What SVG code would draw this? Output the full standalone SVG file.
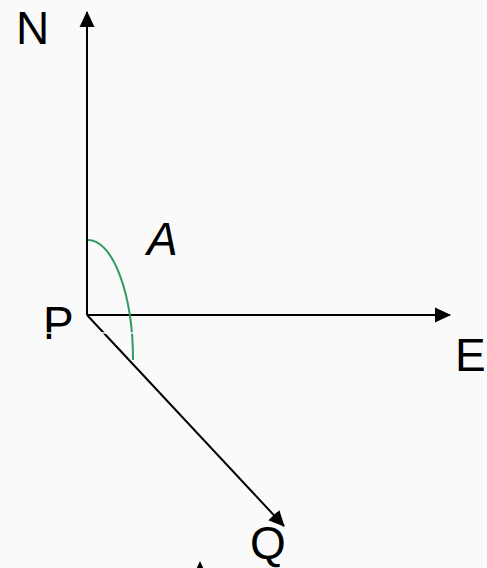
<svg xmlns="http://www.w3.org/2000/svg" width="487" height="568" viewBox="0 0 487 568">
<style>
.lbl{font-family:"Liberation Sans",Arial,sans-serif;font-size:46px;fill:#000}
.ax{stroke:#000;stroke-width:2;fill:none}
</style>
<defs>
<marker id="ah" viewBox="0 0 16 16" refX="15" refY="8" markerWidth="16" markerHeight="16" markerUnits="userSpaceOnUse" orient="auto">
<path d="M0,0.5 L16,8 L0,15.5 Z" fill="#000"/>
</marker>
</defs>
<rect width="487" height="568" fill="#fafafa"/>
<g id="connectors">
<line class="ax" x1="87" y1="315" x2="87" y2="12" marker-end="url(#ah)"/>
<line class="ax" x1="87" y1="315" x2="450" y2="315" marker-end="url(#ah)"/>
<line class="ax" x1="87" y1="315" x2="284" y2="526" marker-end="url(#ah)"/>
<path d="M200,561 L193,576 L207,576 Z" fill="#000"/>
</g>
<g id="angle">
<path d="M88,240 A45,120 0 0 1 133,360" fill="none" stroke="#2e9b63" stroke-width="2"/>
<text class="lbl" x="147" y="255" font-style="italic">A</text>
</g>
<g id="N"><text class="lbl" x="16" y="44">N</text></g>
<g id="P"><text class="lbl" x="43" y="339">P</text></g>
<g id="E"><text class="lbl" x="455" y="371">E</text></g>
<g id="Q"><text class="lbl" x="250" y="559">Q</text></g>
<line x1="46" y1="333" x2="134" y2="333" stroke="#fafafa" stroke-width="1.5"/>
</svg>
